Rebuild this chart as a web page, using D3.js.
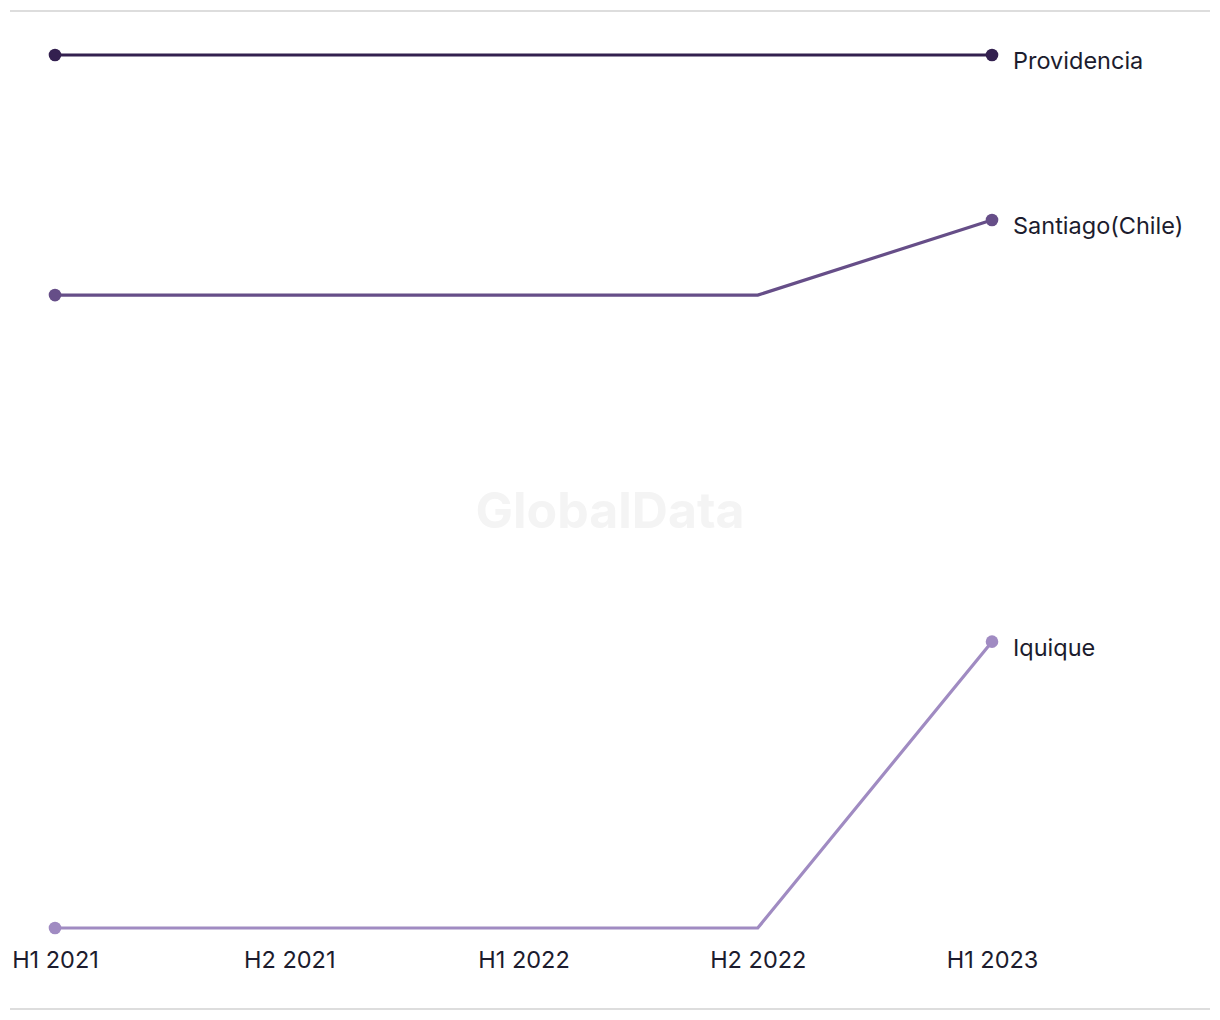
<!DOCTYPE html>
<html><head><meta charset="utf-8">
<script src="https://cdn.jsdelivr.net/npm/d3@7"></script>
<style>body{margin:0;background:#fff}svg{display:block}</style>
</head><body>
<script>
const categories = ["H1 2021","H2 2021","H1 2022","H2 2022","H1 2023"];
const seriesNames = ["Providencia","Santiago(Chile)","Iquique"];
const providencia = [100,100,100,100,100];
const santiago = [72.5,72.5,72.5,72.5,81.1];
const iquique = [0,0,0,0,32.8];
const colors = ["#33204f","#664e88","#a08bc2"];

const W=1220,H=1020;
const svg=d3.select("body").append("svg").attr("width",W).attr("height",H);
const font="Inter, 'Liberation Sans', sans-serif";

svg.append("text").attr("x",610).attr("y",514).attr("text-anchor","middle").attr("dominant-baseline","middle")
  .attr("font-family",font).attr("font-weight",700).attr("font-size",50).attr("fill","#f4f4f4").text("GlobalData");

svg.append("line").attr("x1",10).attr("x2",1210).attr("y1",11).attr("y2",11).attr("stroke","#dddddd").attr("stroke-width",2);
svg.append("line").attr("x1",10).attr("x2",1210).attr("y1",1009).attr("y2",1009).attr("stroke","#dddddd").attr("stroke-width",2);

const x=d3.scalePoint().domain(categories).range([55,992]);
const y=d3.scaleLinear().domain([0,100]).range([928,55]);

const xAxis=svg.append("g").attr("transform","translate(0,951)")
  .call(d3.axisBottom(x).tickSize(0).tickPadding(0));
xAxis.select(".domain").remove();
xAxis.selectAll("text").attr("font-family",font).attr("font-size",23.5).attr("fill","#1c1c2e").attr("dy","0.71em");

const data=[providencia,santiago,iquique];
const line=d3.line().x((d,i)=>x(categories[i])).y(d=>y(d));
data.forEach((s,k)=>{
  svg.append("path").datum(s).attr("d",line).attr("fill","none").attr("stroke",colors[k]).attr("stroke-width",3.2);
  svg.selectAll(null).data([s[0],s[s.length-1]]).enter().append("circle")
    .attr("cx",(d,i)=>i===0?x(categories[0]):x(categories[categories.length-1]))
    .attr("cy",d=>y(d)).attr("r",6.3).attr("fill",colors[k]);
  svg.append("text").attr("x",x(categories[categories.length-1])+21).attr("y",y(s[s.length-1])+7.5)
    .attr("dominant-baseline","middle").attr("font-family",font).attr("font-size",23.5).attr("fill","#1c1c2e")
    .text(seriesNames[k]);
});
</script>
</body></html>
